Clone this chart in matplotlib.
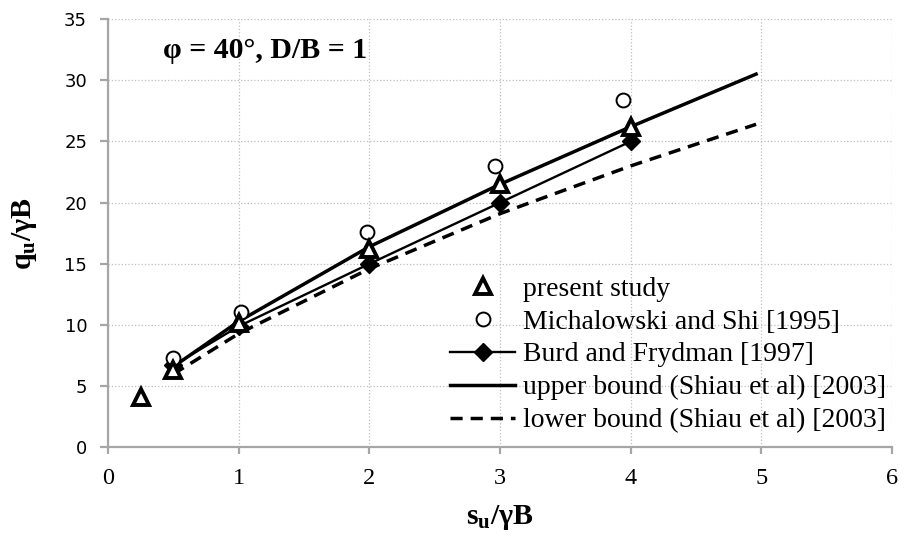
"""plot.py - bearing capacity comparison, phi = 40 deg, D/B = 1."""

import matplotlib
matplotlib.use('Agg')
import matplotlib.pyplot as plt

SERIF = 'Liberation Serif'
GRID_C = '#bfbfbf'
SPINE_C = '#a6a6a6'

plt.rcParams.update({
    'mathtext.fontset': 'custom',
    'mathtext.rm': SERIF,
    'mathtext.it': SERIF + ':italic',
    'mathtext.bf': SERIF + ':bold',
})

# --- data ---
present_x = [0.25, 0.5, 1.0, 2.0, 3.0, 4.0]
present_y = [4.1, 6.3, 10.2, 16.2, 21.5, 26.2]

micha_x = [0.5, 1.02, 1.98, 2.96, 3.94]
micha_y = [7.3, 11.1, 17.6, 23.0, 28.4]

burd_x = [0.5, 1.0, 2.0, 3.0, 4.0]
burd_y = [6.7, 9.9, 15.0, 20.0, 25.0]

upper_x = [0.5, 1.0, 2.0, 3.0, 4.0, 4.96]
upper_y = [6.6, 10.3, 16.4, 21.5, 26.2, 30.5]

lower_x = [0.5, 1.0, 2.0, 3.0, 4.0, 4.96]
lower_y = [6.0, 9.3, 14.6, 19.1, 23.0, 26.4]

x_ticks = [0, 1, 2, 3, 4, 5, 6]
y_ticks = [0, 5, 10, 15, 20, 25, 30, 35]

fig = plt.figure(figsize=(9.1, 5.45), dpi=100, facecolor='white')
ax = fig.add_axes([0.1187, 0.1789, 0.8615, 0.7862])

ax.plot(upper_x, upper_y, color='black', lw=2.5, zorder=3,
        label='upper bound (Shiau et al) [2003]')
ax.plot(lower_x, lower_y, color='black', lw=2.5, dashes=(3.5, 2.3), zorder=3,
        label='lower bound (Shiau et al) [2003]')
ax.plot(burd_x, burd_y, color='black', lw=1.7, marker='D', ms=9,
        mfc='black', mec='black', zorder=4, label='Burd and Frydman [1997]')
ax.plot(micha_x, micha_y, ls='none', marker='o', ms=10, mfc='white',
        mec='black', mew=1.4, zorder=5, label='Michalowski and Shi [1995]')
ax.plot(present_x, present_y, ls='none', marker='^', ms=11, mfc='white',
        mec='black', mew=2.8, zorder=6, label='present study')

ax.set_xlim(0, 6)
ax.set_ylim(0, 35)
ax.set_xticks(x_ticks)
ax.set_yticks(y_ticks)
ax.grid(True, color=GRID_C, ls=':', lw=0.9, zorder=0)
ax.set_axisbelow(True)

for side in ('top', 'right'):
    ax.spines[side].set_visible(False)
for side in ('left', 'bottom'):
    ax.spines[side].set_color(SPINE_C)
    ax.spines[side].set_linewidth(1.6)

ax.tick_params(axis='y', direction='out', length=6, width=1.6, color=SPINE_C,
               pad=9, labelsize=13)
ax.tick_params(axis='x', direction='out', length=5, width=1.6, color=SPINE_C,
               pad=10, labelsize=17.5)
for t in ax.get_xticklabels():
    t.set_fontfamily(SERIF)

ax.set_xlabel(r'$\mathbf{s_u}$/γB', fontfamily=SERIF, fontweight='bold',
              fontsize=21.5, labelpad=10)
ax.set_ylabel(r'$\mathbf{q_u}$/γB', fontfamily=SERIF, fontweight='bold',
              fontsize=21.5, labelpad=18)

ax.text(0.42, 32.4, 'φ = 40°, D/B = 1', fontfamily=SERIF, fontweight='bold',
        fontsize=21.5, ha='left', va='center')

h, l = ax.get_legend_handles_labels()
order = [4, 3, 2, 0, 1]
ax.legend([h[i] for i in order], [l[i] for i in order], loc='lower right',
          bbox_to_anchor=(1.0, 0.02), frameon=False, numpoints=1,
          prop={'family': SERIF, 'size': 20}, handlelength=2.34,
          handletextpad=0.29, labelspacing=0.27, borderaxespad=0,
          borderpad=0.2)

fig.savefig('out.png', dpi=100, facecolor='white')
